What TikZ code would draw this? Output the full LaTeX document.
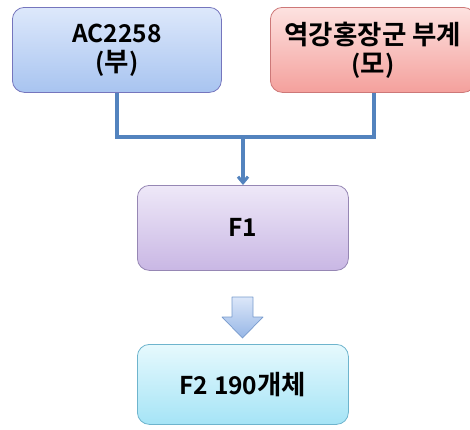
\documentclass[tikz,border=0pt]{standalone}
\usepackage{fontspec}
\setmainfont{Noto Sans CJK KR}[BoldFont={* Bold}]
\usetikzlibrary{arrows.meta}
\definecolor{lnblue}{HTML}{5383BE}
\newcommand\krtxt[1]{{\fontsize{26.5}{28}\selectfont #1}}
\begin{document}
\begin{tikzpicture}[x=1pt,y=-1pt,
  box/.style={draw, rounded corners=12pt, line width=0.8pt, font=\bfseries\fontsize{24.5}{28}\selectfont, align=center, inner sep=0pt, anchor=north west},
  conn/.style={lnblue, line width=3.5pt}]
\useasboundingbox (0,0) rectangle (470,429);
\node[box, draw=blue!35!gray!80, top color={rgb,255:red,221;green,232;blue,251}, bottom color={rgb,255:red,168;green,196;blue,240}, minimum width=209pt, minimum height=85pt] (a) at (12,7) {AC2258\\[1pt](\krtxt{부})};
\node[box, draw={rgb,255:red,205;green,120;blue,120}, top color={rgb,255:red,253;green,226;blue,224}, bottom color={rgb,255:red,244;green,160;blue,156}, minimum width=205pt, minimum height=85pt] (b) at (270,7) {\krtxt{역강홍장군 부계}\\[1pt](\krtxt{모})};
\node[box, draw={rgb,255:red,150;green,135;blue,180}, top color={rgb,255:red,238;green,232;blue,248}, bottom color={rgb,255:red,201;green,183;blue,228}, minimum width=211pt, minimum height=85pt] (f1) at (137,185) {F1};
\node[box, draw={rgb,255:red,110;green,180;blue,205}, top color={rgb,255:red,230;green,249;blue,253}, bottom color={rgb,255:red,165;green,228;blue,246}, minimum width=211pt, minimum height=80pt] (f2) at (137,344) {F2 190\krtxt{개체}};
\coordinate (jb) at (374,137);
\coordinate (jm) at (243,137);
\draw[conn] (a.south -| 117,0) |- (jb) -- (b.south -| 374,0);
\draw[conn, -{Straight Barb[length=6pt,width=10pt,line width=3pt]}] (jm) -- (f1.north -| 243,0);
\draw[draw={rgb,255:red,120;green,155;blue,205}, line width=0.7pt, top color={rgb,255:red,220;green,231;blue,249}, bottom color={rgb,255:red,150;green,182;blue,230}, line join=round]
  (232,297) -- (253,297) -- (253,317) -- (263,317) -- (242.5,338) -- (222,317) -- (232,317) -- cycle;
\end{tikzpicture}
\end{document}
